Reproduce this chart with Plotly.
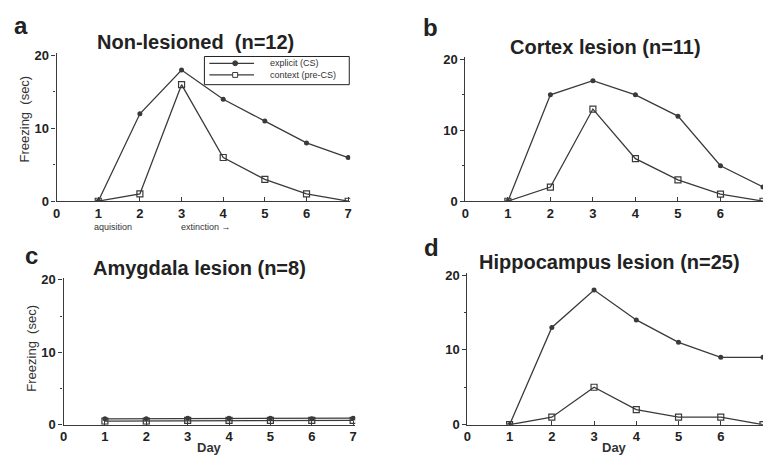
import plotly.graph_objects as go

W, H = 765, 455

days = [1, 2, 3, 4, 5, 6, 7]
tick_vals = [0, 1, 2, 3, 4, 5, 6, 7]
tick_text = ["0", "1", "2", "3", "4", "5", "6", "7"]

a_explicit = [0, 12, 18, 14, 11, 8, 6]
a_context = [0, 1, 16, 6, 3, 1, 0]
b_explicit = [0, 15, 17, 15, 12, 5, 2]
b_context = [0, 2, 13, 6, 3, 1, 0]
c_explicit = [0.8, 0.8, 0.9, 0.9, 0.9, 0.8, 0.9]
c_context = [0.5, 0.5, 0.6, 0.6, 0.6, 0.6, 0.6]
d_explicit = [0, 13, 18, 14, 11, 9, 9]
d_context = [0, 1, 5, 2, 1, 1, 0]

titles = ["Non-lesioned  (n=12)", "Cortex lesion (n=11)",
          "Amygdala lesion (n=8)", "Hippocampus lesion (n=25)"]
letters = ["a", "b", "c", "d"]
series_names = ["explicit (CS)", "context (pre-CS)"]

LINE = "#3a3a3a"
TXT = "#222"
FONT = "Liberation Sans, Arial, sans-serif"

# panel geometry in pixels: (x_left, x_right, y_zero_px, y_20_px, xmax)
panels = [
    (53, 349, 202, 52, 7.05),
    (465, 765, 202, 56, 7.0),
    (60, 354, 432, 283, 7.05),
    (467, 765, 432, 278, 7.0),
]
data = [(a_explicit, a_context), (b_explicit, b_context),
        (c_explicit, c_context), (d_explicit, d_context)]

fig = go.Figure()
ytop = 20.3

for i, ((x0, x1, yz, yt, xmax), (ex, cx)) in enumerate(zip(panels, data)):
    n = "" if i == 0 else str(i + 1)
    xa, ya = "x" + n, "y" + n
    fig.add_trace(go.Scatter(
        x=days, y=ex, mode="lines+markers", name=series_names[0],
        xaxis=xa, yaxis=ya, showlegend=False, cliponaxis=True,
        line=dict(color=LINE, width=1.3),
        marker=dict(symbol="circle", size=5, color=LINE)))
    fig.add_trace(go.Scatter(
        x=days, y=cx, mode="lines+markers", name=series_names[1],
        xaxis=xa, yaxis=ya, showlegend=False, cliponaxis=True,
        line=dict(color=LINE, width=1.3),
        marker=dict(symbol="square-open", size=6, color=LINE,
                    line=dict(width=1.2))))
    ppu = (yz - yt) / 20.0
    ytop_px = yz - ytop * ppu
    xd = [x0 / W, x1 / W]
    yd = [1 - yz / H, 1 - ytop_px / H]
    fig.layout["xaxis" + n] = dict(
        domain=xd, range=[0, xmax], anchor=ya, tickvals=tick_vals,
        ticktext=tick_text, ticks="inside", ticklen=4, tickcolor=LINE,
        showline=True, linecolor=LINE, linewidth=1.2, showgrid=False,
        zeroline=False, fixedrange=True,
        tickfont=dict(family=FONT, size=13, color=TXT, weight="bold"))
    fig.layout["yaxis" + n] = dict(
        domain=yd, range=[0, ytop], anchor=xa, tickvals=[0, 10, 20],
        ticks="outside", ticklen=4, tickcolor=LINE,
        showline=True, linecolor=LINE, linewidth=1.2, showgrid=False,
        zeroline=False, fixedrange=True,
        minor=dict(tickvals=[5, 15], ticks="outside", ticklen=2,
                   tickcolor=LINE),
        tickfont=dict(family=FONT, size=13, color=TXT, weight="bold"))

ann = []
shapes = []


def px(x, y):
    return x / W, 1 - y / H


title_pos = [(193, 38), (606, 43), (197, 271), (610, 265)]
letter_pos = [(17, 21), (430, 23), (28, 258), (431, 250)]
for t, (tx, ty) in zip(titles, title_pos):
    X, Y = px(tx, ty)
    ann.append(dict(text="<b>" + t + "</b>", x=X, y=Y,
                    xref="paper", yref="paper", showarrow=False,
                    xanchor="center", yanchor="middle",
                    font=dict(family=FONT, size=20, color=TXT)))
for t, (tx, ty) in zip(letters, letter_pos):
    X, Y = px(tx, ty)
    ann.append(dict(text="<b>" + t + "</b>", x=X, y=Y,
                    xref="paper", yref="paper", showarrow=False,
                    xanchor="center", yanchor="middle",
                    font=dict(family=FONT, size=24, color=TXT)))
for (tx, ty) in [(21, 117), (28, 353)]:
    X, Y = px(tx, ty)
    ann.append(dict(text="Freezing  (sec)", x=X, y=Y,
                    xref="paper", yref="paper", showarrow=False,
                    textangle=-90, xanchor="center", yanchor="middle",
                    font=dict(family=FONT, size=13, color="#333")))
for (tx, ty) in [(207, 455), (615, 455)]:
    X, Y = px(tx, ty)
    ann.append(dict(text="<b>Day</b>", x=X, y=Y,
                    xref="paper", yref="paper", showarrow=False,
                    xanchor="center", yanchor="middle",
                    font=dict(family=FONT, size=13, color="#333")))
X, Y = px(110, 229)
ann.append(dict(text="aquisition", x=X, y=Y, xref="paper", yref="paper",
                showarrow=False, xanchor="center", yanchor="middle",
                font=dict(family=FONT, size=9, color="#333")))
X, Y = px(204, 229)
ann.append(dict(text="extinction \u2192", x=X, y=Y, xref="paper",
                yref="paper", showarrow=False, xanchor="center",
                yanchor="middle",
                font=dict(family=FONT, size=9, color="#333")))

# hand-drawn legend box (as in the original figure)
bx0, by0 = px(202, 53)
bx1, by1 = px(348, 82)
shapes.append(dict(type="rect", xref="paper", yref="paper",
                   x0=bx0, x1=bx1, y0=by1, y1=by0,
                   line=dict(color=TXT, width=1), fillcolor="white"))
rows = [60, 72]
for r, name, sym in zip(rows, series_names, ["circle", "square"]):
    lx0, ly = px(207, r)
    lx1, _ = px(252, r)
    shapes.append(dict(type="line", xref="paper", yref="paper",
                       x0=lx0, x1=lx1, y0=ly, y1=ly,
                       line=dict(color=LINE, width=1.2)))
    cx0, cy0 = px(230.5, r - 2.5)
    cx1, cy1 = px(235.5, r + 2.5)
    if sym == "circle":
        shapes.append(dict(type="circle", xref="paper", yref="paper",
                           x0=cx0, x1=cx1, y0=cy1, y1=cy0,
                           line=dict(color=LINE, width=1), fillcolor=LINE))
    else:
        shapes.append(dict(type="rect", xref="paper", yref="paper",
                           x0=cx0, x1=cx1, y0=cy1, y1=cy0,
                           line=dict(color=LINE, width=1), fillcolor="white"))
    tx, ty = px(266, r)
    ann.append(dict(text=name, x=tx, y=ty, xref="paper", yref="paper",
                    showarrow=False, xanchor="left", yanchor="middle",
                    font=dict(family=FONT, size=9, color="#333")))

fig.update_layout(
    width=W, height=H, margin=dict(l=0, r=0, t=0, b=0),
    paper_bgcolor="white", plot_bgcolor="white",
    annotations=ann, shapes=shapes, showlegend=False,
)

fig.write_html("out.html")
